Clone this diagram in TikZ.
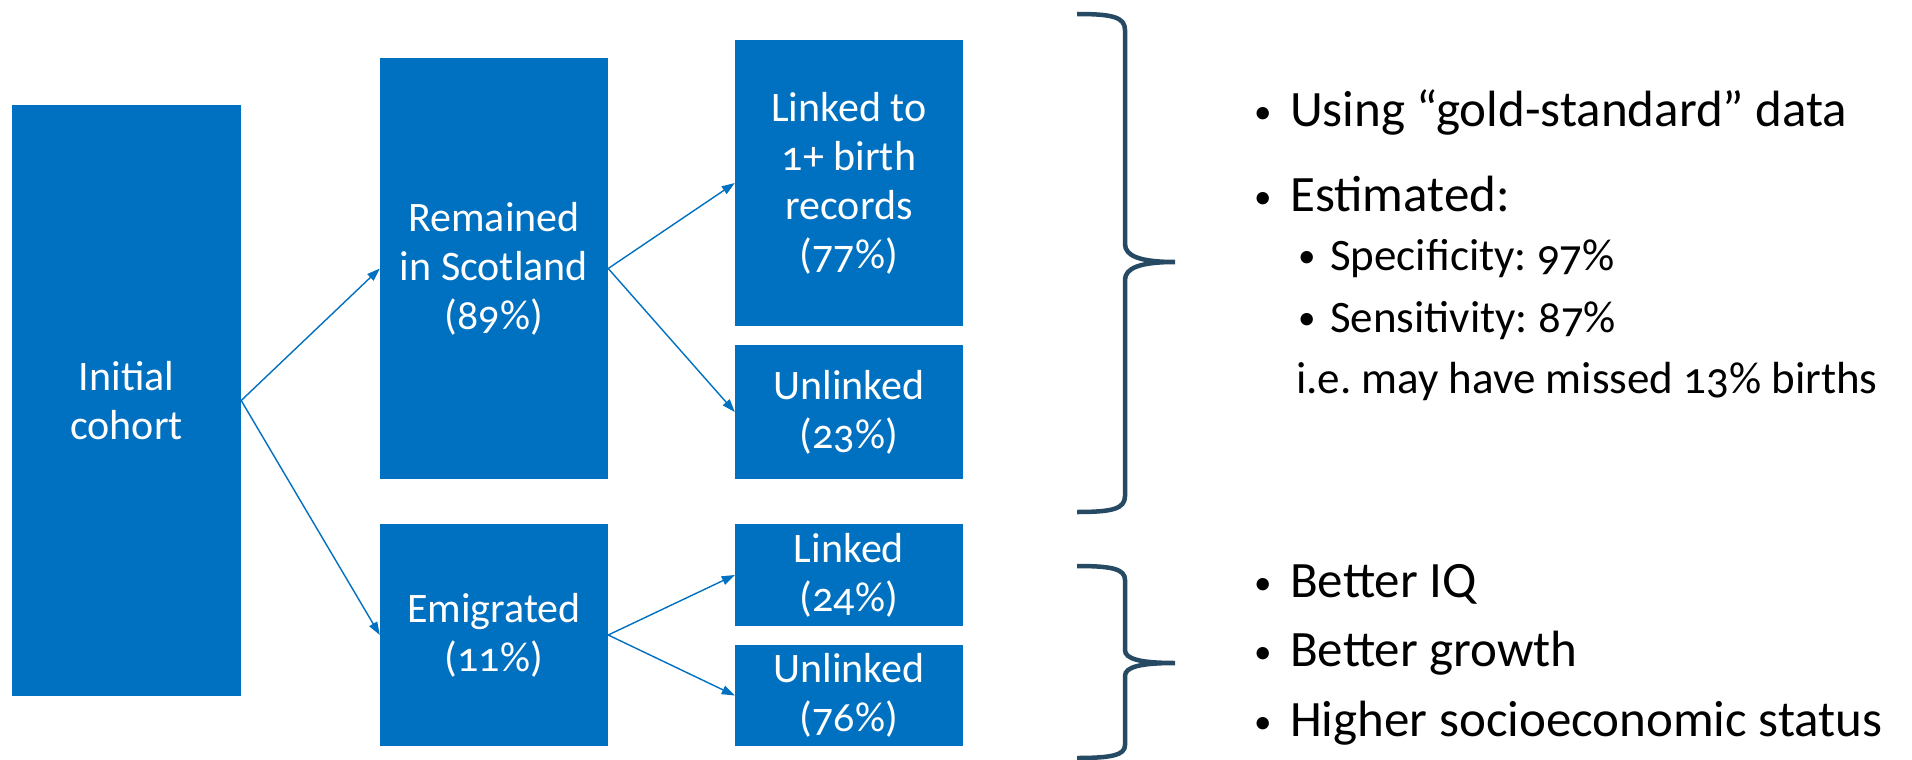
\documentclass[tikz,border=0pt]{standalone}
\usepackage{fontspec}
\setmainfont{Carlito}[Numbers=OldStyle]
\usetikzlibrary{arrows.meta}
\definecolor{boxblue}{RGB}{0,112,192}
\definecolor{bracecol}{RGB}{38,74,99}
\newcommand{\smallbul}{\raisebox{3pt}{\fontsize{35}{35}\selectfont •}}
\tikzset{
  stage/.style={fill=boxblue, draw=none, inner sep=0pt, minimum width=228pt, align=center,
    text=white, font=\fontsize{42}{49}\selectfont},
  flow/.style={draw=boxblue, line width=1.4pt, -{Triangle[length=13pt,width=9pt]}},
  brace/.style={draw=bracecol, line width=4.5pt, line join=miter},
  bul/.style={anchor=base west, inner sep=0pt, font=\fontsize{51}{58}\selectfont\frenchspacing},
  subbul/.style={anchor=base west, inner sep=0pt, font=\fontsize{45}{52}\selectfont\frenchspacing},
}
\begin{document}
\begin{tikzpicture}[x=1pt,y=-1pt]
\useasboundingbox (0,0) rectangle (1912,760);
% boxes
\node[stage, minimum width=229pt, minimum height=591pt] (init) at (126.5,400.5) {Initial\\cohort};
\node[stage, minimum height=421pt] (rem) at (494,268.5) {Remained\\in Scotland\\(89\%)};
\node[stage, minimum height=222pt] (emi) at (494,635) {Emigrated\\(11\%)};
\node[stage, minimum height=286pt] (l1) at (849,183) {Linked to\\1+ birth\\records\\(77\%)};
\node[stage, minimum height=134pt] (u1) at (849,412) {Unlinked\\(23\%)};
\node[stage, minimum height=102pt] (l2) at (849,575) {Linked\\(24\%)};
\node[stage, minimum height=101pt] (u2) at (849,695.5) {Unlinked\\(76\%)};
% arrows
\draw[flow] (init.east) -- (rem.west);
\draw[flow] (init.east) -- (emi.west);
\draw[flow] (rem.east) -- (l1.west);
\draw[flow] (rem.east) -- (u1.west);
\draw[flow] (emi.east) -- (l2.west);
\draw[flow] (emi.east) -- (u2.west);
% braces
\draw[brace] (1077,14) .. controls (1112,14) and (1125,17) .. (1125,30) -- (1125,244)
  .. controls (1125,256) and (1140,262) .. (1175,262)
  .. controls (1140,262) and (1125,268) .. (1125,280) -- (1125,496)
  .. controls (1125,509) and (1112,512) .. (1077,512);
\draw[brace] (1077,566) .. controls (1112,566) and (1125,569) .. (1125,580) -- (1125,650)
  .. controls (1125,659) and (1140,663) .. (1175,663)
  .. controls (1140,663) and (1125,667) .. (1125,676) -- (1125,745)
  .. controls (1125,755) and (1112,758) .. (1077,758);
% upper text
\node[bul] (b1) at (1254,126) {\smallbul};
\node[bul] (t1) at (1290,126) {Using “gold-standard” data};
\node[bul] (b2) at (1254,211) {\smallbul};
\node[bul] (t2) at (1290,211) {Estimated:};
\node[subbul] (b3) at (1298,270) {\smallbul};
\node[subbul] (t3) at (1330,270) {Specificity: 97\%};
\node[subbul] (b4) at (1298,332) {\smallbul};
\node[subbul] (t4) at (1330,332) {Sensitivity: 87\%};
\node[subbul] (t5) at (1296,393) {i.e. may have missed 13\% births};
% lower text
\node[bul] (b6) at (1254,597) {\smallbul};
\node[bul] (t6) at (1290,597) {Better IQ};
\node[bul] (b7) at (1254,666) {\smallbul};
\node[bul] (t7) at (1290,666) {Better growth};
\node[bul] (b8) at (1254,736) {\smallbul};
\node[bul] (t8) at (1290,736) {Higher socioeconomic status};
\end{tikzpicture}
\end{document}
